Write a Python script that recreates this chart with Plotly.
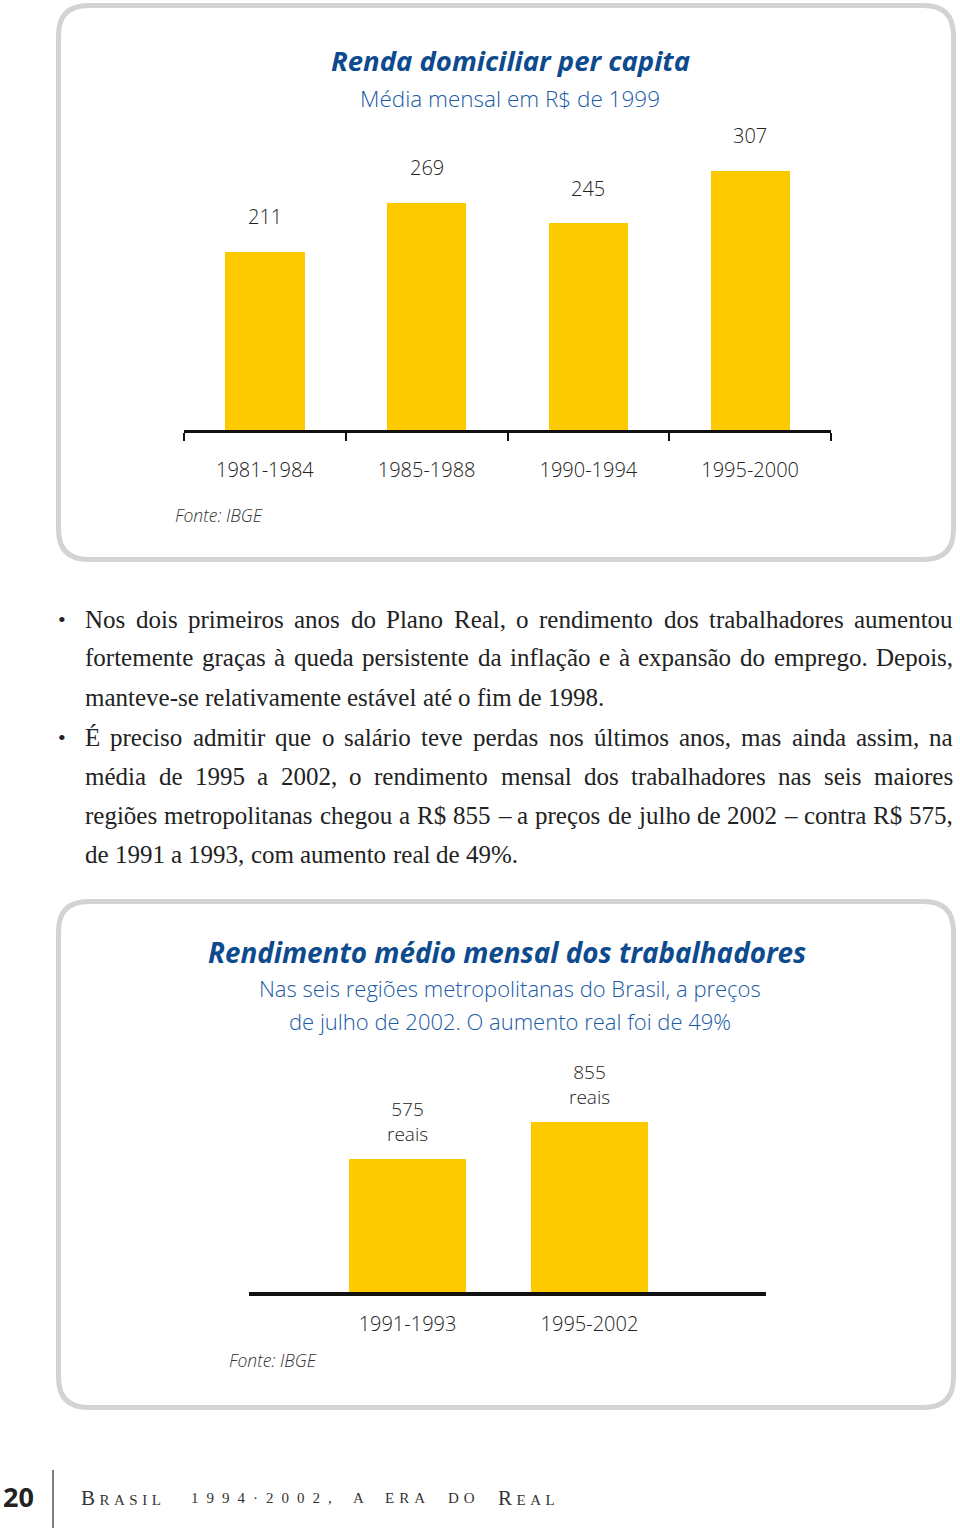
import math
import unicodedata
import plotly.graph_objects as go

# ---------------- data ----------------
periods_renda = ["1981-1984", "1985-1988", "1990-1994", "1995-2000"]
renda_per_capita = [211, 269, 245, 307]

periods_rend = ["1991-1993", "1995-2002"]
rendimento_medio = [575, 855]
unit_label = "reais"

title1 = "Renda domiciliar per capita"
subtitle1 = "Média mensal em R$ de 1999"
title2 = "Rendimento médio mensal dos trabalhadores"
subtitle2 = ["Nas seis regiões metropolitanas do Brasil, a preços",
             "de julho de 2002. O aumento real foi de 49%"]
source_label = "Fonte: IBGE"

paragraphs = [
    ["Nos dois primeiros anos do Plano Real, o rendimento dos trabalhadores aumentou",
     "fortemente graças à queda persistente da inflação e à expansão do emprego. Depois,",
     "manteve-se relativamente estável até o fim de 1998."],
    ["É preciso admitir que o salário teve perdas nos últimos anos, mas ainda assim, na",
     "média de 1995 a 2002, o rendimento mensal dos trabalhadores nas seis maiores",
     "regiões metropolitanas chegou a R$ 855 – a preços de julho de 2002 – contra R$ 575,",
     "de 1991 a 1993, com aumento real de 49%."],
]
page_number = "20"
footer_words = ["Brasil", "1994·2002,", "a", "era", "do", "Real"]

# ---------------- style ----------------
W, H = 960, 1528
YELLOW = "#FDCA00"
TITLE_BLUE = "#0D4A8E"
SUB_BLUE = "#1A5BA6"
TEXT = "#222222"
BOX = "#D3D3D3"
SANS = "Open Sans"
SERIF = "Liberation Serif"


def fx(x):
    return x / W


def fy(y):
    return 1 - y / H


fig = go.Figure()

fig.add_trace(go.Bar(x=periods_renda, y=renda_per_capita, width=0.49,
                     marker=dict(color=YELLOW, line=dict(width=0)),
                     xaxis="x", yaxis="y", hoverinfo="x+y"))
fig.add_trace(go.Bar(x=periods_rend, y=rendimento_medio, width=0.643,
                     marker=dict(color=YELLOW, line=dict(width=0)),
                     xaxis="x2", yaxis="y2", hoverinfo="x+y"))

ann = []
shapes = []


def text(x, y, s, size, color=TEXT, family=SANS, xanchor="center", yanchor="middle",
         weight=None, **kw):
    f = dict(size=size, color=color, family=family)
    if weight:
        f["weight"] = weight
    d = dict(x=fx(x), y=fy(y), xref="paper", yref="paper", text=s, showarrow=False,
             xanchor=xanchor, yanchor=yanchor, borderpad=0, font=f)
    d.update(kw)
    ann.append(d)


def rounded_box(x0, y0, x1, y1, r):
    pts = [("M", [(x0 + r, y0)]), ("L", [(x1 - r, y0)]), ("Q", [(x1, y0), (x1, y0 + r)]),
           ("L", [(x1, y1 - r)]), ("Q", [(x1, y1), (x1 - r, y1)]), ("L", [(x0 + r, y1)]),
           ("Q", [(x0, y1), (x0, y1 - r)]), ("L", [(x0, y0 + r)]), ("Q", [(x0, y0), (x0 + r, y0)])]
    p = ""
    for cmd, ps in pts:
        p += cmd + " " + " ".join(f"{fx(a):.5f},{fy(b):.5f}" for a, b in ps) + " "
    p += "Z"
    shapes.append(dict(type="path", path=p, xref="paper", yref="paper",
                       line=dict(color=BOX, width=5), fillcolor="rgba(0,0,0,0)", layer="below"))


# boxes
rounded_box(58.5, 5.5, 953.5, 559.5, 30)
rounded_box(58.5, 901.5, 953.5, 1407.5, 30)

LABEL_FONT = dict(size=20, color=TEXT, family=SANS, weight=300)

# chart 1 texts
text(510, 61, f"<b><i>{title1}</i></b>", 27.5, TITLE_BLUE)
text(510, 98, subtitle1, 22.5, SUB_BLUE, weight=300)
text(174, 515, f"<i>{source_label}</i>", 17.5, "#333333", xanchor="left", weight=300)
for p, v in zip(periods_renda, renda_per_capita):
    ann.append(dict(x=p, y=v, xref="x", yref="y", text=str(v), showarrow=False,
                    yanchor="middle", yshift=35, font=LABEL_FONT))

# chart 2 texts
text(507, 952, f"<b><i>{title2}</i></b>", 27.8, TITLE_BLUE)
text(510, 988, subtitle2[0], 22, SUB_BLUE, weight=300)
text(510, 1021, subtitle2[1], 22, SUB_BLUE, weight=300)
text(228, 1360, f"<i>{source_label}</i>", 17.5, "#333333", xanchor="left", weight=300)
for p, v in zip(periods_rend, rendimento_medio):
    ann.append(dict(x=p, y=math.log10(v), xref="x2", yref="y2",
                    text=f"{v}<br>{unit_label}", showarrow=False,
                    yanchor="bottom", yshift=11, borderpad=0,
                    font=dict(size=19, color=TEXT, family=SANS, weight=300)))

# ---------------- body paragraphs (justified) ----------------
TW = {' ': 250, 'a': 444, 'b': 500, 'c': 444, 'd': 500, 'e': 444, 'f': 333, 'g': 500, 'h': 500,
      'i': 278, 'j': 278, 'k': 500, 'l': 278, 'm': 778, 'n': 500, 'o': 500, 'p': 500, 'q': 500,
      'r': 333, 's': 389, 't': 278, 'u': 500, 'v': 500, 'w': 722, 'x': 500, 'y': 500, 'z': 444,
      'A': 722, 'B': 667, 'C': 667, 'D': 722, 'E': 611, 'F': 556, 'G': 722, 'H': 722, 'I': 333,
      'J': 389, 'K': 722, 'L': 611, 'M': 889, 'N': 722, 'O': 722, 'P': 556, 'Q': 722, 'R': 667,
      'S': 556, 'T': 611, 'U': 722, 'V': 722, 'W': 944, 'X': 722, 'Y': 722, 'Z': 611,
      ',': 250, '.': 250, '-': 333, '–': 500, '%': 833, '$': 500, ':': 278}


def tw(s, size):
    tot = 0
    for ch in s:
        base = unicodedata.normalize("NFD", ch)[0]
        tot += TW.get(base, 500)
    return tot * size / 1000


BODY_SIZE = 25
X_LEFT, X_RIGHT = 84, 952
line_y = [620, 659, 698, 738, 777, 816, 855]
li = 0
for para in paragraphs:
    text(62, line_y[li] - 1, "•", 22, TEXT, SERIF)
    for k, line in enumerate(para):
        words = line.split(" ")
        widths = [tw(w, BODY_SIZE) for w in words]
        last = k == len(para) - 1
        if last:
            gap = 250 * BODY_SIZE / 1000
        else:
            gap = (X_RIGHT - X_LEFT - sum(widths)) / (len(words) - 1)
        x = X_LEFT
        for w, wd in zip(words, widths):
            text(x, line_y[li] - 1, w, BODY_SIZE, TEXT, SERIF, xanchor="left")
            x += wd + gap
        li += 1

# ---------------- footer ----------------
text(2, 1496, f"<b>{page_number}</b>", 27, TEXT, SANS, xanchor="left")
shapes.append(dict(type="line", xref="paper", yref="paper", x0=fx(53), x1=fx(53),
                   y0=fy(1470), y1=fy(1528), line=dict(color="#555555", width=1.5)))
foot_x = [80, 190, 352, 384, 447, 497]
for word, x in zip(footer_words, foot_x):
    if word[0].isupper():
        s = (f"<span style='font-size:21px;letter-spacing:4.5px'>{word[0]}</span>"
             f"<span style='font-size:15px;letter-spacing:4.5px'>{word[1:].upper()}</span>")
    elif word[0].isdigit():
        s = f"<span style='font-size:15px;letter-spacing:8px'>{word}</span>"
    else:
        s = f"<span style='font-size:15px;letter-spacing:5px'>{word.upper()}</span>"
    text(x, 1498, s, 15, "#333333", SERIF, xanchor="left")

fig.update_layout(
    width=W, height=H, margin=dict(l=0, r=0, t=0, b=0),
    paper_bgcolor="white", plot_bgcolor="white", showlegend=False,
    annotations=ann, shapes=shapes, bargap=0,
    xaxis=dict(domain=[fx(184), fx(831)], type="category", range=[-0.5, 3.5], anchor="y",
               showline=True, linecolor="#111111", linewidth=2.5, ticks="outside",
               tickson="boundaries", ticklen=8, tickwidth=1.5, tickcolor="#111111",
               ticklabelstandoff=20, tickfont=LABEL_FONT,
               showgrid=False, zeroline=False, fixedrange=True),
    yaxis=dict(domain=[fy(430), fy(120)], range=[0, 367], anchor="x", visible=False,
               fixedrange=True),
    xaxis2=dict(domain=[fx(249), fx(766)], type="category", range=[-0.871, 1.97], anchor="y2",
                showline=True, linecolor="#111111", linewidth=4, ticks="",
                ticklabelstandoff=11, tickfont=LABEL_FONT,
                showgrid=False, zeroline=False, fixedrange=True),
    yaxis2=dict(domain=[fy(1292), fy(1050)], type="log", range=[2.14, 3.268], anchor="x2",
                visible=False, fixedrange=True),
)

fig.write_html("out.html")
